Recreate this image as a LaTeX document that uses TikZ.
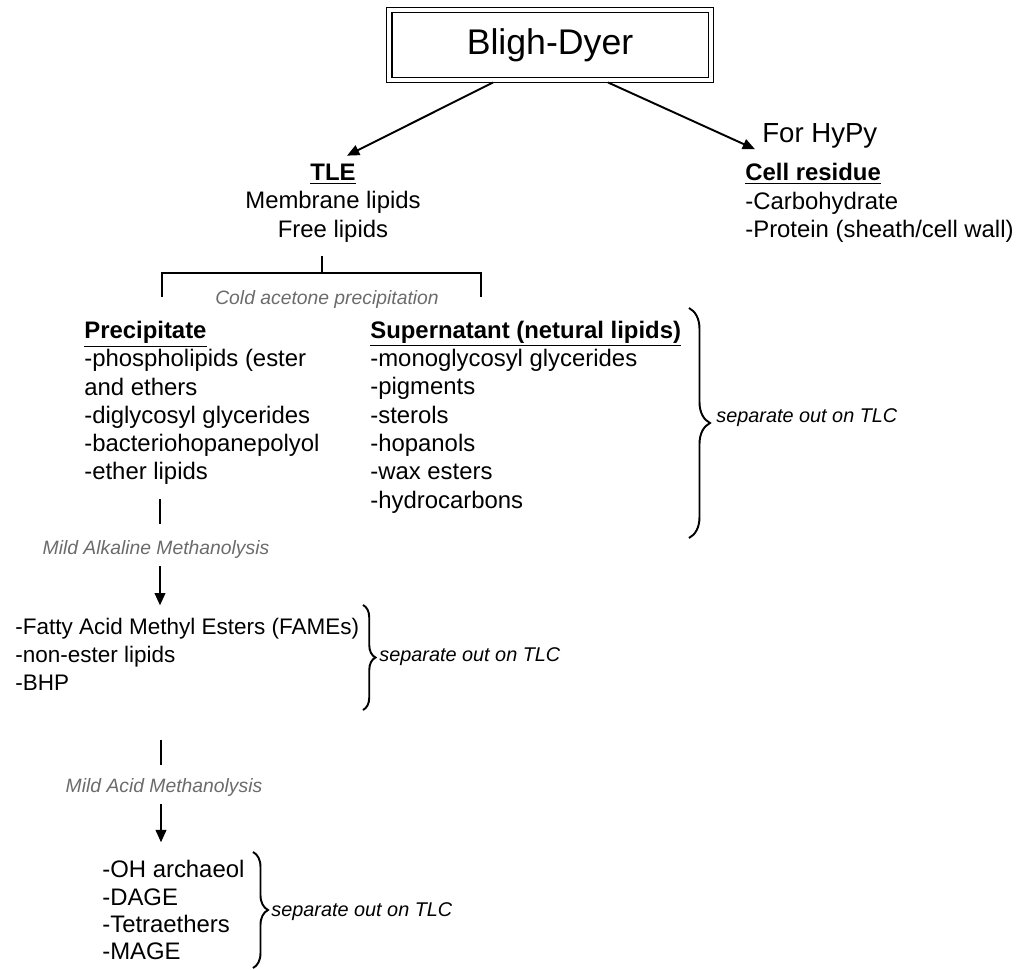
\documentclass[tikz,border=0pt]{standalone}
\usepackage{fontspec}
\setmainfont{Liberation Sans}
\usepackage{xcolor}
\usepackage{tikz}
\usetikzlibrary{arrows.meta,decorations.pathreplacing,calc}

\definecolor{notegray}{gray}{0.42}

\begin{document}
\begin{tikzpicture}[x=0.02cm, y=-0.02cm,
  txt/.style={inner sep=0pt, align=left, font=\fontsize{13.6}{16.1}\selectfont},
  note/.style={inner sep=0pt, text=notegray, font=\fontsize{11}{13}\selectfont\itshape},
  tlcnote/.style={inner sep=0pt, anchor=west, font=\fontsize{11.3}{13}\selectfont\itshape},
  arr/.style={line width=1.1pt, -{Triangle[length=7pt,width=6pt]}},
  brk/.style={line width=1.5pt},
  brc/.style={line width=1.1pt, decorate, decoration={brace, amplitude=#1}}]
\useasboundingbox (0,0) rectangle (1018,970);

% top box and first split
\node[draw, line width=1.1pt, minimum width=6.34cm, minimum height=1.3cm, font=\fontsize{20.3}{24}\selectfont] (bligh) at (550,45) {Bligh-Dyer};
\draw[line width=0.6pt] ([shift={(-4,-4)}]bligh.north west) rectangle ([shift={(4,4)}]bligh.south east);
\node[txt, align=center] (tle) at (333,203) {\underline{\textbf{TLE}}\\Membrane lipids\\Free lipids};
\node[txt, anchor=west] (residue) at (745,203) {\underline{\textbf{Cell residue}}\\-Carbohydrate\\-Protein (sheath/cell wall)};
\node[anchor=base west, inner sep=0pt, font=\fontsize{15.7}{18}\selectfont] (hypy) at (762,142) {For HyPy};

\draw[arr] ([shift={(-57,4)}]bligh.south) -- ([shift={(14,-8)}]tle.north);
\draw[arr] ([shift={(58,4)}]bligh.south) -- ([shift={(10,-14)}]residue.north west);

% acetone split
\coordinate (fork) at (322,273);
\coordinate (forkL) at (162,297);
\coordinate (forkR) at (481,297);
\draw[brk] ($(tle.south -| fork)+(0,14)$) -- (fork);
\draw[brk] (forkL) -- (forkL |- fork) -- (forkR |- fork) -- (forkR);
\node[note] (acetone) at (327,300) {Cold acetone precipitation};

\node[txt, anchor=west] (precip) at (84,403) {\underline{\textbf{Precipitate}}\\-phospholipids (ester\\and ethers\\-diglycosyl glycerides\\-bacteriohopanepolyol\\-ether lipids};
\node[txt, anchor=west] (super) at (370,417) {\underline{\textbf{Supernatant (netural lipids)}}\\-monoglycosyl glycerides\\-pigments\\-sterols\\-hopanols\\-wax esters\\-hydrocarbons};
\draw[brc=0.42cm] (689,308) -- (689,538);
\node[tlcnote] (tlcA) at (716,418) {separate out on TLC};

% alkaline step
\coordinate (colA) at (160,0);
\draw[brk] ($(precip.south -| colA)+(0,14)$) -- ++(0,25);
\node[note] (alkal) at (156,549) {Mild Alkaline Methanolysis};
\node[txt, anchor=west, font=\fontsize{12.8}{16}\selectfont] (fame) at (15,654) {-Fatty Acid Methyl Esters (FAMEs)\\-non-ester lipids\\-BHP};
\draw[arr] ($(alkal.south -| colA)+(0,8)$) -- ($(fame.north -| colA)+(0,-12)$);
\draw[brc=0.25cm] (363,605) -- (363,710);
\node[tlcnote] (tlcB) at (379,657) {separate out on TLC};

% acid step
\coordinate (colB) at (161,0);
\draw[brk] ($(fame.south -| colB)+(0,49)$) -- ++(0,25);
\node[note] (acid) at (164,787) {Mild Acid Methanolysis};
\node[txt, anchor=west, font=\fontsize{13.6}{15.4}\selectfont] (ether) at (102,910) {-OH archaeol\\-DAGE\\-Tetraethers\\-MAGE};
\draw[arr] ($(acid.south -| colB)+(0,8)$) -- ($(ether.north -| colB)+(0,-18)$);
\draw[brc=0.3cm] (253,852) -- (253,968);
\node[tlcnote] (tlcC) at (271,912) {separate out on TLC};
\end{tikzpicture}
\end{document}
